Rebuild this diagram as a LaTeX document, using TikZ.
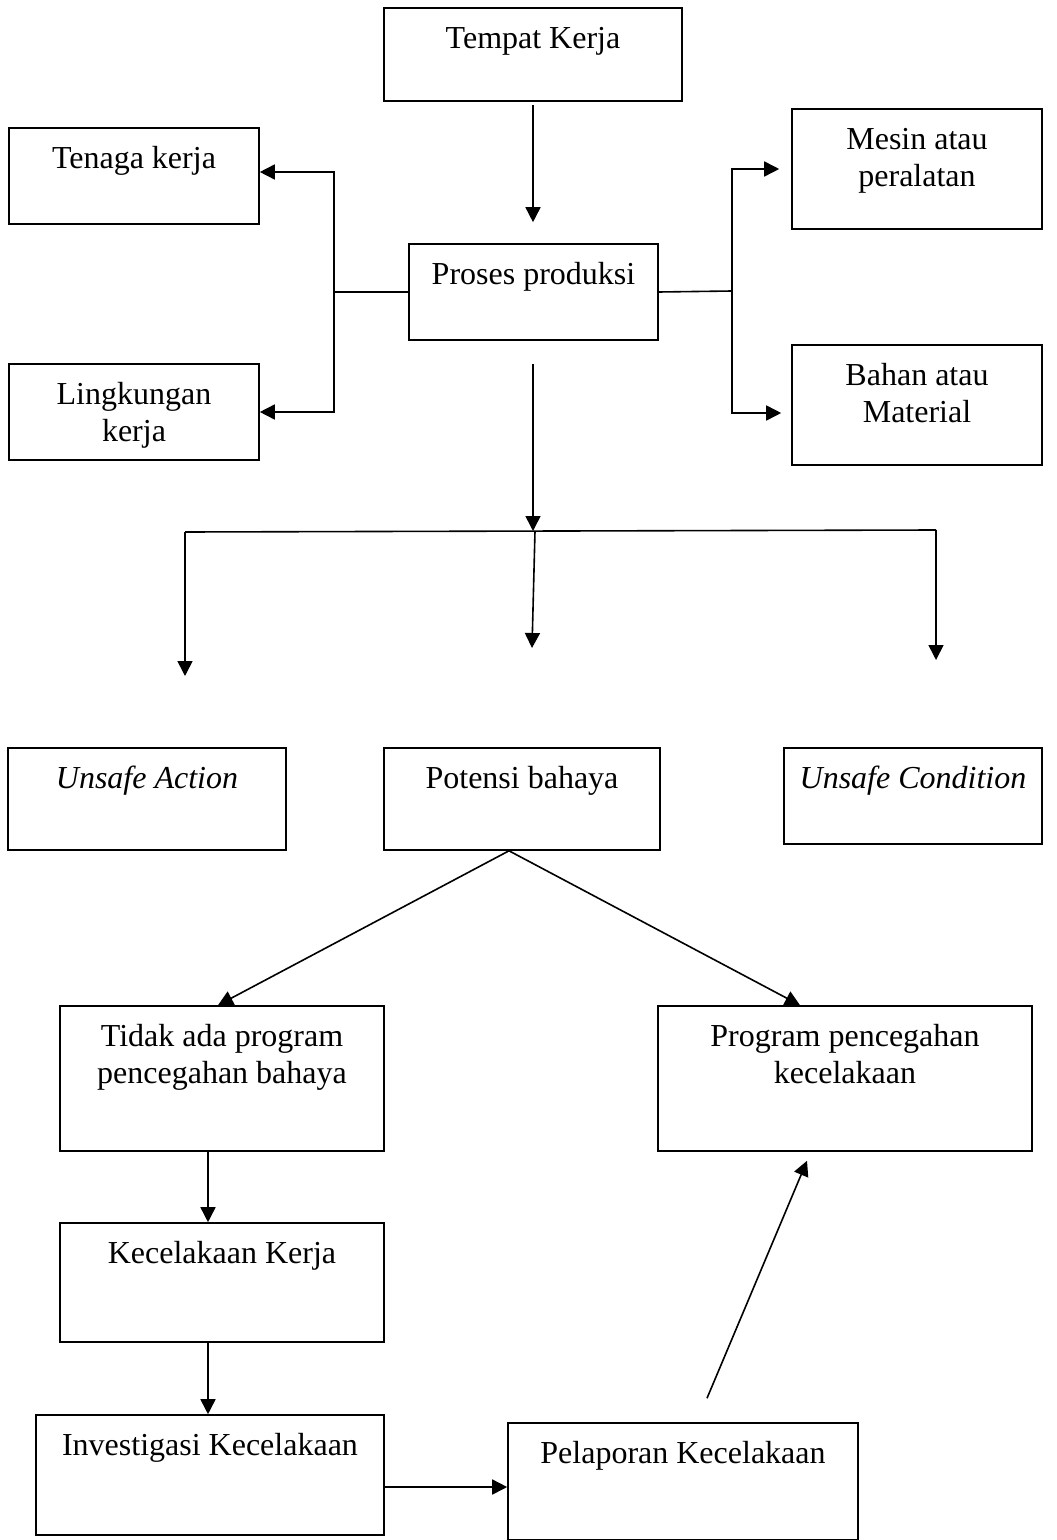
\documentclass[tikz,border=0pt]{standalone}
\usepackage{fontspec}
\setmainfont{Liberation Serif}
\usetikzlibrary{arrows.meta,calc}
\tikzset{
  box/.style={draw, line width=0.8pt, inner sep=0pt},
  lbl/.style={anchor=north, inner sep=0pt, align=center, font=\fontsize{16pt}{18.5pt}\selectfont},
  ln/.style={line width=0.8pt},
  arr/.style={ln, -{Triangle[length=7.5pt,width=7.5pt]}},
}
\newcommand\mkbox[5]{\node[box, minimum width={(#4-#2)*0.5pt}, minimum height={(#5-#3)*0.5pt}] (#1) at ({(#2+#4)/2},{(#3+#5)/2}) {};}
\newcommand\mklbl[2]{\node[lbl] (#1t) at ([yshift=-7.5pt]#1.north) {\strut #2};}
\begin{document}
\begin{tikzpicture}[x=0.5pt, y=-0.5pt]
\useasboundingbox (0,0) rectangle (1056,1540);
% boxes
\mkbox{tk}{384}{8}{682}{101}
\mkbox{tn}{9}{128}{259}{224}
\mkbox{ms}{792}{109}{1042}{229}
\mkbox{pp}{409}{244}{658}{340}
\mkbox{lk}{9}{364}{259}{460}
\mkbox{bh}{792}{345}{1042}{465}
\mkbox{ua}{8}{748}{286}{850}
\mkbox{pb}{384}{748}{660}{850}
\mkbox{uc}{784}{748}{1042}{844}
\mkbox{td}{60}{1006}{384}{1151}
\mkbox{pg}{658}{1006}{1032}{1151}
\mkbox{kk}{60}{1223}{384}{1342}
\mkbox{inv}{36}{1415}{384}{1535}
\mkbox{pel}{508}{1423}{858}{1540}
% labels
\mklbl{tk}{Tempat Kerja}
\mklbl{tn}{Tenaga kerja}
\mklbl{ms}{Mesin atau\\peralatan}
\mklbl{pp}{Proses produksi}
\mklbl{lk}{Lingkungan\\kerja}
\mklbl{bh}{Bahan atau\\Material}
\mklbl{ua}{\textit{Unsafe Action}}
\mklbl{pb}{Potensi bahaya}
\mklbl{uc}{\textit{Unsafe Condition}}
\mklbl{td}{Tidak ada program\\pencegahan bahaya}
\mklbl{pg}{Program pencegahan\\kecelakaan}
\mklbl{kk}{Kecelakaan Kerja}
\mklbl{inv}{Investigasi Kecelakaan}
\mklbl{pel}{Pelaporan Kecelakaan}
% connectors
\draw[arr, shorten <=1.5pt, shorten >=10.5pt] (tk.south) -- (tk.south |- pp.north);
\coordinate (lj) at (334,292);
\draw[ln] (pp.west) -- (lj);
\draw[arr] (lj) |- ([yshift=2pt]tn.east);
\draw[arr] (lj) |- (lk.east);
\coordinate (rj) at (732,291);
\draw[ln] (pp.east) -- (rj);
\draw[arr, shorten >=6pt] (rj) |- (ms.west);
\draw[arr, shorten >=5pt] (rj) |- ([yshift=-4pt]bh.west);
\coordinate (hc) at (533,531);
\draw[arr, shorten <=11.5pt] (pp.south -| hc) -- (hc);
\coordinate (hl) at (185,532);
\coordinate (hm) at (535,531);
\coordinate (hr) at (936,530);
\draw[ln] (hl) -- (hr);
\coordinate (al) at (185,676);
\coordinate (am) at (532,648);
\coordinate (ar) at (936,660);
\draw[arr] (hl) -- (al);
\draw[arr] (hm) -- (am);
\draw[arr] (hr) -- (ar);
\coordinate (apex) at ([xshift=-6.5pt]pb.south);
\draw[arr] (apex) -- ([xshift=-2pt]td.north);
\draw[arr] (apex) -- ([xshift=-22.5pt]pg.north);
\draw[arr] ([xshift=-7pt]td.south) -- ([xshift=-7pt]kk.north);
\draw[arr] ([xshift=-7pt]kk.south) -- ([xshift=-7pt]kk.south |- inv.north);
\draw[arr] ([yshift=-6pt]inv.east) -- ([yshift=-6pt]inv.east -| pel.west);
\draw[arr] ([xshift=12pt,yshift=12pt]pel.north) -- ([xshift=-19pt,yshift=-4.5pt]pg.south);
\end{tikzpicture}
\end{document}
